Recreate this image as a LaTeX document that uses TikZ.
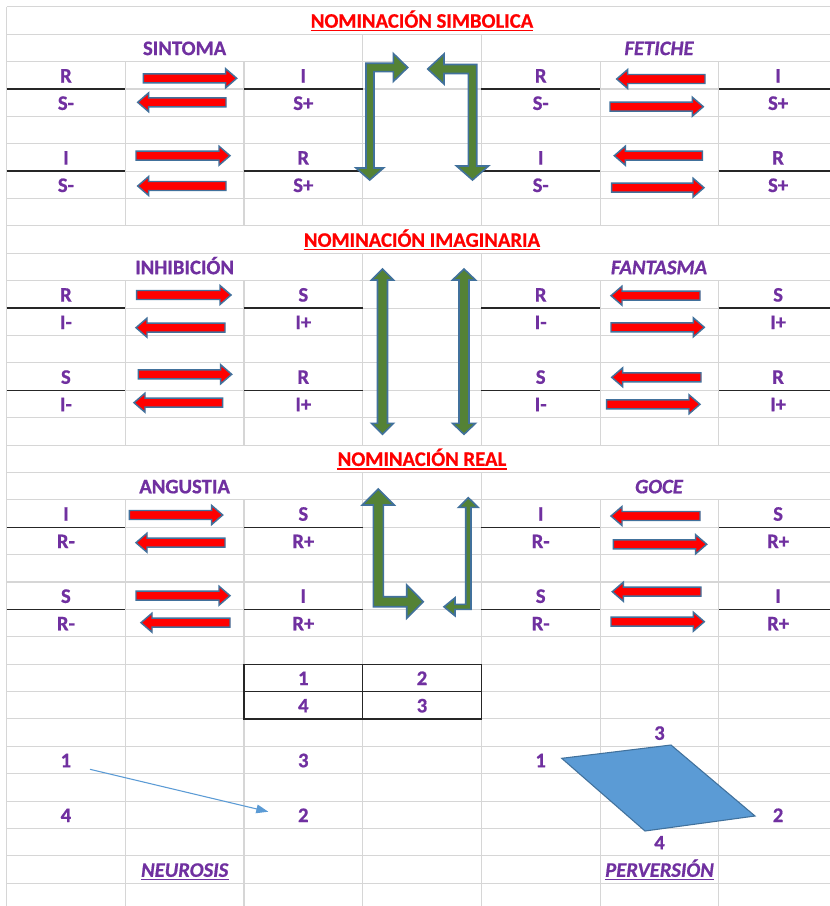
\documentclass[tikz,border=0pt]{standalone}
\usepackage{fontspec}
\setmainfont{Carlito}[BoldFeatures={FakeBold=0.7},BoldItalicFeatures={FakeBold=0.7}]
\usetikzlibrary{arrows.meta}

\definecolor{gridgray}{RGB}{214,214,214}
\definecolor{lblpurple}{RGB}{112,48,160}
\definecolor{ttlred}{RGB}{255,0,0}
\definecolor{shapeedge}{RGB}{65,113,156}
\definecolor{shapegreen}{RGB}{84,130,53}
\definecolor{shapeblue}{RGB}{91,155,213}

% horizontal block arrow: #1 tail x, #2 tip x, #3 centre y (pixel units)
\newcommand\hblock[3]{%
  \pgfmathsetmacro\hbd{(#2>#1)?1:-1}%
  \filldraw[redblock] (#1,{#3-4.5}) -- ({#2-\hbd*11},{#3-4.5}) -- ({#2-\hbd*11},{#3-9.5})
    -- (#2,#3) -- ({#2-\hbd*11},{#3+9.5}) -- ({#2-\hbd*11},{#3+4.5}) -- (#1,{#3+4.5}) -- cycle;}

% underline drawn under a named text node
\newcommand\ulnode[2]{%
  \draw[draw=#2,line width=1.1pt] ([yshift=-2.2pt]#1.base west) -- ([yshift=-2.2pt]#1.base east);}

\begin{document}
\begin{tikzpicture}[x=0.75pt,y=-0.75pt,
  every node/.style={inner sep=0pt,text=lblpurple,font=\fontsize{15.5}{18}\selectfont\bfseries},
  lbl/.style={anchor=base},
  ital/.style={anchor=base,font=\fontsize{15.5}{18}\selectfont\bfseries\itshape},
  ttl/.style={anchor=base,text=ttlred},
  gridline/.style={draw=gridgray,line width=0.8pt},
  blackline/.style={draw=black!85,line width=1pt},
  redblock/.style={fill=ttlred,draw=shapeedge,line width=1.1pt},
  greenblock/.style={fill=shapegreen,draw=shapeedge,line width=1.2pt},
  bluelink/.style={draw=shapeblue,line width=0.8pt,-{Triangle[length=9pt,width=6.5pt]}}]

\useasboundingbox[fill=white] (0,0) rectangle (830,906);

% ---- sheet grid ----
\foreach \k in {0,...,32}
  \draw[gridline] (6.6,{6.8+27.39*\k}) -- (830,{6.8+27.39*\k});
\draw[gridline] (6.6,6.8) -- (6.6,906);
\foreach \x in {362.7,481.4}{
  \draw[gridline] (\x,34.19) -- (\x,225.92);
  \draw[gridline] (\x,253.31) -- (\x,445.04);
  \draw[gridline] (\x,472.43) -- (\x,906);
}
\foreach \x in {125.3,244,600.1,718.8}{
  \draw[gridline] (\x,61.58) -- (\x,225.92);
  \draw[gridline] (\x,280.70) -- (\x,445.04);
  \draw[gridline] (\x,499.82) -- (\x,906);
}

% ---- fraction bars ----
\foreach \y in {88.97,171.14,308.09,390.26,527.21,609.38}{
  \draw[blackline] (6.6,\y) -- (125.3,\y);
  \draw[blackline] (244,\y) -- (362.7,\y);
  \draw[blackline] (481.4,\y) -- (600.1,\y);
  \draw[blackline] (718.8,\y) -- (830,\y);
}

% ---- small 2x2 table ----
\draw[blackline] (244,664.16) rectangle (481.4,718.94);
\draw[blackline] (244,691.55) -- (481.4,691.55);
\draw[blackline] (362.7,664.16) -- (362.7,718.94);

% ---- titles ----
\node[ttl] (t1) at (422,27.7) {NOMINACIÓN SIMBOLICA};
\node[ttl] (t2) at (422,246.8) {NOMINACIÓN IMAGINARIA};
\node[ttl] (t3) at (422,465.9) {NOMINACIÓN REAL};
\ulnode{t1}{ttlred} \ulnode{t2}{ttlred} \ulnode{t3}{ttlred}

% ---- headings ----
\node[lbl]  (h1) at (184.6,55.1) {SINTOMA};
\node[ital] (h2) at (659,55.1) {FETICHE};
\node[lbl]  (h3) at (184.6,274.2) {INHIBICIÓN};
\node[ital] (h4) at (659,274.2) {FANTASMA};
\node[lbl]  (h5) at (184.6,493.3) {ANGUSTIA};
\node[ital] (h6) at (659,493.3) {GOCE};

% ---- fraction labels ----
\foreach \nm/\x/\y/\t in {
  a1/65.9/82.5/R, a2/303.3/82.5/I, a3/540.7/82.5/R, a4/778.1/82.5/I,
  a5/65.9/109.9/S-, a6/303.3/109.9/S+, a7/540.7/109.9/S-, a8/778.1/109.9/S+,
  b1/65.9/164.6/I, b2/303.3/164.6/R, b3/540.7/164.6/I, b4/778.1/164.6/R,
  b5/65.9/192.0/S-, b6/303.3/192.0/S+, b7/540.7/192.0/S-, b8/778.1/192.0/S+,
  c1/65.9/301.6/R, c2/303.3/301.6/S, c3/540.7/301.6/R, c4/778.1/301.6/S,
  c5/65.9/329.0/I-, c6/303.3/329.0/I+, c7/540.7/329.0/I-, c8/778.1/329.0/I+,
  d1/65.9/383.8/S, d2/303.3/383.8/R, d3/540.7/383.8/S, d4/778.1/383.8/R,
  d5/65.9/411.2/I-, d6/303.3/411.2/I+, d7/540.7/411.2/I-, d8/778.1/411.2/I+,
  e1/65.9/520.7/I, e2/303.3/520.7/S, e3/540.7/520.7/I, e4/778.1/520.7/S,
  e5/65.9/548.1/R-, e6/303.3/548.1/R+, e7/540.7/548.1/R-, e8/778.1/548.1/R+,
  f1/65.9/602.9/S, f2/303.3/602.9/I, f3/540.7/602.9/S, f4/778.1/602.9/I,
  f5/65.9/630.3/R-, f6/303.3/630.3/R+, f7/540.7/630.3/R-, f8/778.1/630.3/R+}
  \node[lbl] (\nm) at (\x,\y) {\t};

% ---- numbers ----
\foreach \nm/\x/\y/\t in {
  g1/303.3/685.0/1, g2/422/685.0/2, g4/303.3/712.4/4, g3/422/712.4/3,
  n1/65.9/767.2/1, n3/303.3/767.2/3, n4/65.9/822.0/4, n2/303.3/822.0/2,
  p1/540.7/767.2/1, p3/659.5/739.8/3, p2/778.1/822.0/2, p4/659.5/849.4/4}
  \node[lbl] (\nm) at (\x,\y) {\t};

\node[ital] (neu) at (184.7,876.8) {NEUROSIS};
\node[ital] (per) at (659.5,876.8) {PERVERSIÓN};
\ulnode{neu}{lblpurple} \ulnode{per}{lblpurple}

% ---- red block arrows ----
\hblock{143.3}{236.7}{78.3}  \hblock{226}{137.7}{102.3}
\hblock{136}{230}{155.7}     \hblock{226}{137.7}{186}
\hblock{136.7}{231}{295}     \hblock{225}{136}{327.7}
\hblock{138.3}{231.7}{374.3} \hblock{222.7}{134}{402.7}
\hblock{129.3}{222.7}{515}   \hblock{225}{136}{542.7}
\hblock{136}{230}{595.7}     \hblock{230}{141}{622.7}
\hblock{705}{616.7}{79}      \hblock{610}{703.3}{106.7}
\hblock{702.3}{614.3}{155.7} \hblock{611.7}{704}{187.7}
\hblock{700}{611}{295.7}     \hblock{611}{704.3}{327.3}
\hblock{701}{611.7}{377.3}   \hblock{606.7}{700}{404.3}
\hblock{700}{611}{516}       \hblock{613.3}{706.7}{544.3}
\hblock{701}{612.3}{591.7}   \hblock{611}{704.3}{621.7}

% ---- green arrows, symbolic ----
\filldraw[greenblock] (366,168) -- (356,168) -- (369.7,180) -- (383.5,168) -- (374,168)
  -- (374,71.7) -- (393.3,71.7) -- (393.3,81.5) -- (407.7,67.5) -- (393.3,53.5)
  -- (393.3,63.3) -- (366,63.3) -- cycle;
\filldraw[greenblock] (427.7,69) -- (444,54) -- (444,64.5) -- (476.7,64.5) -- (476.7,166)
  -- (488.5,166) -- (472.5,180) -- (456.5,166) -- (468.3,166) -- (468.3,73.5)
  -- (444,73.5) -- (444,84) -- cycle;

% ---- green arrows, imaginary ----
\filldraw[greenblock] (382.5,269) -- (393.5,280) -- (387.5,280) -- (387.5,423.3) -- (393.5,423.3)
  -- (382.5,434.3) -- (371.5,423.3) -- (377.5,423.3) -- (377.5,280) -- (371.5,280) -- cycle;
\filldraw[greenblock] (464,269) -- (475.5,280) -- (469,280) -- (469,423.3) -- (475.5,423.3)
  -- (464,434.3) -- (452.5,423.3) -- (459,423.3) -- (459,280) -- (452.5,280) -- cycle;

% ---- green arrows, real ----
\filldraw[greenblock] (378.3,489) -- (394.3,505) -- (383.3,505) -- (383.3,596.7) -- (406.7,596.7)
  -- (406.7,585) -- (423.3,601.7) -- (406.7,618.3) -- (406.7,606.7) -- (373.3,606.7)
  -- (373.3,505) -- (362.3,505) -- cycle;
\filldraw[greenblock] (468.3,497.7) -- (478,507.3) -- (471,507.3) -- (471,609.3) -- (455,609.3)
  -- (455,615.8) -- (444,606.8) -- (455,597.8) -- (455,604.3) -- (465.7,604.3)
  -- (465.7,507.3) -- (458.6,507.3) -- cycle;

% ---- neurosis link ----
\coordinate (la) at (90,769.3);
\coordinate (lb) at (268.3,811.7);
\draw[bluelink] (la) -- (lb);

% ---- perversion quadrilateral ----
\coordinate (q1) at (561.7,758.3);
\coordinate (q3) at (671,745);
\coordinate (q2) at (755,816);
\coordinate (q4) at (645,831);
\filldraw[fill=shapeblue,draw=shapeedge,line width=0.8pt] (q1) -- (q3) -- (q2) -- (q4) -- cycle;

\end{tikzpicture}
\end{document}
